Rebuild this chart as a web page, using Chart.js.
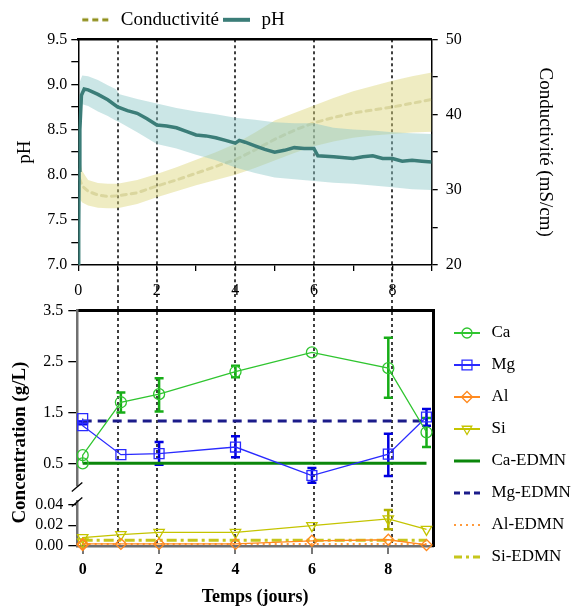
<!DOCTYPE html>
<html><head><meta charset="utf-8">
<script src="https://cdn.jsdelivr.net/npm/chart.js@4.4.0/dist/chart.umd.min.js"></script>
<style>
html,body{margin:0;padding:0;background:#fff;overflow:hidden;}
#wrap{position:relative;width:573px;height:606px;background:#fff;}
#c1{position:absolute;left:0;top:0;}
#c2{position:absolute;left:0;top:275px;}
</style></head><body>
<div id="wrap">
<canvas id="c1" width="573" height="300"></canvas>
<canvas id="c2" width="573" height="331"></canvas>
</div>
<script>
// ---------- TOP CHART DATA ----------
const phT = [0, 0.01, 0.02, 0.04, 0.08, 0.15, 0.25, 0.5, 0.75, 1.0, 1.25, 1.5, 1.75, 2.0, 2.25, 2.5, 2.75, 3.0, 3.25, 3.5, 3.75, 4.0, 4.1, 4.25, 4.5, 4.75, 5.0, 5.25, 5.5, 5.75, 6.0, 6.1, 6.5, 7.0, 7.25, 7.5, 7.75, 8.0, 8.25, 8.5, 8.75, 9.0];
const phMean = [7.0, 7.37, 8.05, 8.5, 8.88, 8.95, 8.94, 8.89, 8.83, 8.75, 8.71, 8.68, 8.62, 8.55, 8.54, 8.52, 8.48, 8.44, 8.43, 8.41, 8.38, 8.35, 8.38, 8.36, 8.32, 8.28, 8.25, 8.27, 8.30, 8.29, 8.29, 8.21, 8.20, 8.18, 8.20, 8.21, 8.18, 8.18, 8.15, 8.16, 8.15, 8.14];
const bandT = [0.03, 0.1, 0.25, 0.5, 0.75, 0.95, 1.05, 1.5, 2.0, 2.5, 3.0, 3.5, 4.0, 4.5, 5.0, 5.5, 6.0, 6.5, 7.0, 7.5, 8.0, 8.5, 9.0];
const phUpper = [9.02, 9.10, 9.09, 9.05, 8.99, 8.95, 8.89, 8.84, 8.79, 8.74, 8.70, 8.67, 8.63, 8.61, 8.58, 8.57, 8.57, 8.52, 8.50, 8.49, 8.47, 8.46, 8.45];
const phLower = [8.50, 8.78, 8.76, 8.70, 8.65, 8.60, 8.58, 8.47, 8.34, 8.29, 8.22, 8.16, 8.08, 8.02, 7.97, 7.95, 7.93, 7.91, 7.90, 7.88, 7.86, 7.84, 7.83];
const condT = [0.03, 0.1, 0.25, 0.5, 0.75, 1.0, 1.5, 2.0, 2.5, 3.0, 3.5, 4.0, 4.5, 5.0, 5.5, 6.0, 6.5, 7.0, 7.5, 8.0, 8.5, 9.0];
const condMean = [31.5, 30.5, 29.8, 29.3, 29.1, 29.2, 29.6, 30.5, 31.3, 32.2, 33.1, 34.0, 35.3, 36.7, 37.9, 38.9, 39.6, 40.2, 40.6, 41.0, 41.5, 42.0];
const condUpper = [34.5, 32.5, 31.3, 30.9, 30.8, 30.8, 31.3, 32.1, 33.0, 34.0, 35.0, 36.1, 37.6, 39.2, 40.2, 41.2, 42.2, 43.1, 43.8, 44.5, 45.1, 45.6];
const condLower = [28.8, 28.3, 27.9, 27.6, 27.55, 27.55, 28.1, 29.0, 29.8, 30.6, 31.3, 32.0, 32.9, 33.9, 34.9, 35.8, 36.4, 36.9, 37.2, 37.4, 37.6, 37.7];
const xTicksTop = [0, 1, 2, 3, 4, 5, 6, 7, 8, 9];
const xLabelsTop = [0, 2, 4, 6, 8];
const phTicks = [7.0, 7.25, 7.5, 7.75, 8.0, 8.25, 8.5, 8.75, 9.0, 9.25, 9.5];
const phMajor = [7.0, 7.5, 8.0, 8.5, 9.0, 9.5];
const phMajorLabels = ['7.0', '7.5', '8.0', '8.5', '9.0', '9.5'];
const condTicks = [20, 25, 30, 35, 40, 45, 50];
const condMajor = [20, 30, 40, 50];
const samplingDays = [1, 2, 4, 6, 8];

// ---------- BOTTOM CHART DATA ----------
const sampleDays = [0, 0, 1, 2, 4, 6, 8, 9];
const caVals = [0.50, 0.66, 1.70, 1.86, 2.30, 2.68, 2.37, 1.11];
const caErrLow = [null, null, 1.50, 1.52, 2.19, null, 1.79, 0.82];
const caErrHigh = [null, null, 1.89, 2.17, 2.42, null, 2.97, 1.39];
const mgVals = [1.38, 1.24, 0.67, 0.69, 0.82, 0.26, 0.68, 1.41];
const mgErrLow = [null, 1.27, null, 0.47, 0.62, 0.12, 0.25, 1.24];
const mgErrHigh = [null, 1.32, null, 0.92, 1.03, 0.41, 1.08, 1.57];
const alVals = [0.001, 0.002, 0.002, 0.002, 0.002, 0.005, 0.006, 0.001];
const siVals = [0.004, 0.008, 0.011, 0.013, 0.013, 0.0195, 0.026, 0.016];
const siErrLow = [null, null, null, null, null, null, 0.016, null];
const siErrHigh = [null, null, null, null, null, null, 0.0345, null];
const edmnDays = [0, 9];
const caEDMN = [0.5, 0.5];
const mgEDMN = [1.33, 1.33];
const alEDMN = [0.002, 0.002];
const siEDMN = [0.0055, 0.0055];
const xTicksBottom = [0, 2, 4, 6, 8];
const upTicks = [0.5, 1.5, 2.5, 3.5];
const upLabels = ['0.5', '1.5', '2.5', '3.5'];
const lowTicks = [0, 0.02, 0.04];
const lowLabels = ['0.00', '0.02', '0.04'];

// ---------- helpers ----------
const SERIF = "'Liberation Serif','Times New Roman',serif";
Chart.defaults.font.family = SERIF;
Chart.defaults.color = '#000';
Chart.defaults.animation = false;
const JOIN_Y = 288; // page y where the sampling-day guides pass from top canvas to bottom canvas
const C2_TOP = 275;

function pts(xs, ys) { return xs.map((x, i) => ({x: x, y: ys[i]})); }
function img(w, h, draw) { const c = document.createElement('canvas'); c.width = w; c.height = h; const g = c.getContext('2d'); draw(g, w, h); return c; }
function hline(g, x0, x1, y, color, width, dash) { g.save(); g.strokeStyle = color; g.lineWidth = width; g.setLineDash(dash || []); g.beginPath(); g.moveTo(x0, y); g.lineTo(x1, y); g.stroke(); g.restore(); }
function marker(g, type, cx, cy, r, color) {
  g.save(); g.strokeStyle = color; g.lineWidth = 1.3; g.beginPath();
  if (type === 'circle') g.arc(cx, cy, r, 0, Math.PI * 2);
  else if (type === 'rect') { const s = r * Math.SQRT1_2; g.rect(cx - s, cy - s, 2 * s, 2 * s); }
  else if (type === 'rectRot') { g.moveTo(cx - r, cy); g.lineTo(cx, cy - r); g.lineTo(cx + r, cy); g.lineTo(cx, cy + r); g.closePath(); }
  else if (type === 'triDown') { g.moveTo(cx, cy + r); g.lineTo(cx - r * 0.866, cy - r / 2); g.lineTo(cx + r * 0.866, cy - r / 2); g.closePath(); }
  g.stroke(); g.restore();
}

// ---------- colours ----------
const COL = {
  ph: '#3b7d78', phBand: 'rgba(140,200,200,0.45)',
  cond: 'rgba(185,180,100,0.38)', condLegend: '#8f8f1c', condBand: 'rgba(220,212,120,0.45)',
  ca: '#2fc52f', caErr: '#17ad17', mg: '#2a2aff', mgErr: '#0000e0', al: '#ff8a1f', si: '#c4c400', siErr: '#b3b300',
  caE: '#0b870b', mgE: '#1b1b8a', alE: '#ff9a3c', siE: '#c6c61c'
};

// ---------- TOP CHART ----------
const guidesTop = {
  id: 'guidesTop',
  beforeDatasetsDraw(chart) {
    const {ctx, chartArea, scales} = chart;
    ctx.save(); ctx.strokeStyle = '#000'; ctx.lineWidth = 1.5; ctx.setLineDash([3, 3]);
    samplingDays.forEach(d => {
      const px = Math.round(scales.x.getPixelForValue(d));
      ctx.beginPath(); ctx.moveTo(px, chartArea.top); ctx.lineTo(px, JOIN_Y); ctx.stroke();
    });
    ctx.restore();
  }
};

const legCond = img(30, 14, g => hline(g, 1, 28, 7, COL.condLegend, 3, [6, 4]));
const legPh = img(30, 14, g => hline(g, 1, 28, 7, COL.ph, 4));
const TOP_PAD = 7.3;

const topChart = new Chart(document.getElementById('c1'), {
  type: 'line',
  data: { datasets: [
    {label: 'pH', data: pts(phT, phMean), yAxisID: 'y', borderColor: COL.ph, borderWidth: 3.5, pointRadius: 0, fill: false, tension: 0},
    {label: 'pH max', data: pts(bandT, phUpper), yAxisID: 'y', borderColor: 'transparent', borderWidth: 0, pointRadius: 0, backgroundColor: COL.phBand, fill: '+1'},
    {label: 'pH min', data: pts(bandT, phLower), yAxisID: 'y', borderColor: 'transparent', borderWidth: 0, pointRadius: 0, fill: false},
    {label: 'Conductivité', data: pts(condT, condMean), yAxisID: 'y2', borderColor: COL.cond, borderWidth: 3, borderDash: [5, 5], borderCapStyle: 'round', pointRadius: 0, fill: false},
    {label: 'Cond max', data: pts(condT, condUpper), yAxisID: 'y2', borderColor: 'transparent', borderWidth: 0, pointRadius: 0, backgroundColor: COL.condBand, fill: '+1'},
    {label: 'Cond min', data: pts(condT, condLower), yAxisID: 'y2', borderColor: 'transparent', borderWidth: 0, pointRadius: 0, fill: false}
  ]},
  options: {
    responsive: false, animation: false, events: [],
    layout: {padding: {top: TOP_PAD, left: 0, right: 0, bottom: 0}},
    plugins: {
      tooltip: {enabled: false},
      legend: {
        display: true, position: 'top', align: 'start', fullSize: false,
        labels: {
          usePointStyle: true, pointStyleWidth: 30, padding: 3, font: {size: 19}, color: '#000',
          generateLabels: () => [
            {text: 'Conductivité', pointStyle: legCond, fillStyle: 'transparent', strokeStyle: 'transparent', lineWidth: 0, hidden: false, datasetIndex: 3, fontColor: '#000'},
            {text: 'pH', pointStyle: legPh, fillStyle: 'transparent', strokeStyle: 'transparent', lineWidth: 0, hidden: false, datasetIndex: 0, fontColor: '#000'}
          ]
        }
      }
    },
    scales: {
      x: {
        type: 'linear', position: 'bottom', min: 0, max: 9,
        afterBuildTicks: s => { s.ticks = xTicksTop.map(v => ({value: v})); },
        ticks: {autoSkip: false, maxRotation: 0, padding: 10, font: {size: 16}, callback: v => (xLabelsTop.includes(v) ? String(v) : '')},
        grid: {display: true, drawOnChartArea: false, drawTicks: true, tickLength: 6, color: '#000', tickColor: '#000', lineWidth: 1.3},
        border: {display: true, color: '#000', width: 1.5},
        afterFit: s => { s.height = 35; }
      },
      xTop: {
        type: 'linear', position: 'top', min: 0, max: 9,
        ticks: {display: false}, grid: {display: false, drawTicks: false},
        border: {display: true, color: '#000', width: 2.5},
        afterFit: s => { const lg = s.chart.legend; s.height = Math.max(0, 32.3 - TOP_PAD - (lg ? lg.height : 0)); }
      },
      y: {
        type: 'linear', position: 'left', min: 7, max: 9.5,
        afterBuildTicks: s => { s.ticks = phTicks.map(v => ({value: v})); },
        ticks: {autoSkip: false, padding: 4, font: {size: 16}, callback: v => { const i = phMajor.indexOf(v); return i >= 0 ? phMajorLabels[i] : ''; }},
        grid: {display: true, drawOnChartArea: false, drawTicks: true, tickLength: 7, color: '#000', lineWidth: 1.3},
        border: {display: true, color: '#000', width: 1.5},
        title: {display: true, text: 'pH', font: {size: 19}, padding: {top: 13.6, bottom: 0}},
        afterFit: s => { s.width = 78.3; }
      },
      y2: {
        type: 'linear', position: 'right', min: 20, max: 50,
        afterBuildTicks: s => { s.ticks = condTicks.map(v => ({value: v})); },
        ticks: {autoSkip: false, padding: 8, font: {size: 16}, callback: v => (condMajor.includes(v) ? String(v) : '')},
        grid: {display: true, drawOnChartArea: false, drawTicks: true, tickLength: 6, color: '#000', lineWidth: 1.3},
        border: {display: true, color: '#000', width: 1.5},
        title: {display: true, text: 'Conductivité (mS/cm)', font: {size: 19}, padding: {top: 16.6, bottom: 0}},
        afterFit: s => { s.width = 141.3; }
      }
    }
  },
  plugins: [guidesTop]
});

// ---------- BOTTOM CHART ----------
const errorSets = [
  {low: caErrLow, high: caErrHigh, axis: 'yUp', color: COL.caErr},
  {low: mgErrLow, high: mgErrHigh, axis: 'yUp', color: COL.mgErr},
  {low: siErrLow, high: siErrHigh, axis: 'yLow', color: COL.siErr}
];
const guidesBottom = {
  id: 'guidesBottom',
  beforeDatasetsDraw(chart) {
    const {ctx, chartArea} = chart;
    ctx.save(); ctx.strokeStyle = '#000'; ctx.lineWidth = 1.5; ctx.setLineDash([3, 3]);
    samplingDays.forEach(d => {
      const px = Math.round(topChart.scales.x.getPixelForValue(d));
      ctx.beginPath(); ctx.moveTo(px, JOIN_Y - C2_TOP); ctx.lineTo(px, chartArea.bottom); ctx.stroke();
    });
    ctx.restore();
  }
};
const errorBars = {
  id: 'errorBars',
  beforeDatasetsDraw(chart) {
    const ctx = chart.ctx, xs = chart.scales.x;
    errorSets.forEach(set => {
      const ys = chart.scales[set.axis];
      ctx.save(); ctx.strokeStyle = set.color; ctx.lineWidth = 2.5; ctx.setLineDash([]);
      set.low.forEach((lo, i) => {
        const hi = set.high[i];
        if (lo == null || hi == null) return;
        const px = xs.getPixelForValue(sampleDays[i]);
        const y1 = ys.getPixelForValue(lo), y2 = ys.getPixelForValue(hi);
        ctx.beginPath();
        ctx.moveTo(px, y1); ctx.lineTo(px, y2);
        ctx.moveTo(px - 4.5, y1); ctx.lineTo(px + 4.5, y1);
        ctx.moveTo(px - 4.5, y2); ctx.lineTo(px + 4.5, y2);
        ctx.stroke();
      });
      ctx.restore();
    });
  }
};
const axisBreak = {
  id: 'axisBreak',
  afterDraw(chart) {
    const ctx = chart.ctx, g = chart.scales.yGap, x = chart.chartArea.left;
    ctx.save(); ctx.strokeStyle = '#000'; ctx.lineWidth = 1.3;
    [g.top + 1, g.bottom + 1].forEach(y => { ctx.beginPath(); ctx.moveTo(x - 5.5, y + 4.5); ctx.lineTo(x + 5, y - 4.5); ctx.stroke(); });
    ctx.restore();
  }
};

const LW = 32, LH = 16;
const legItems = [
  ['Ca', img(LW, LH, g => { hline(g, 3, 29, 8, COL.ca, 2); marker(g, 'circle', 16, 8, 5, COL.ca); })],
  ['Mg', img(LW, LH, g => { hline(g, 3, 29, 8, COL.mg, 2); marker(g, 'rect', 16, 8, 7, COL.mg); })],
  ['Al', img(LW, LH, g => { hline(g, 3, 29, 8, COL.al, 2); marker(g, 'rectRot', 16, 8, 5.5, COL.al); })],
  ['Si', img(LW, LH, g => { hline(g, 3, 29, 8, COL.si, 2); marker(g, 'triDown', 16, 8, 5.5, COL.si); })],
  ['Ca-EDMN', img(LW, LH, g => hline(g, 3, 29, 8, COL.caE, 3))],
  ['Mg-EDMN', img(LW, LH, g => hline(g, 3, 29, 8, COL.mgE, 3, [6, 4]))],
  ['Al-EDMN', img(LW, LH, g => hline(g, 3, 29, 8, COL.alE, 2, [2, 4]))],
  ['Si-EDMN', img(LW, LH, g => hline(g, 3, 29, 8, COL.siE, 3, [8, 4, 3, 4]))]
];
const TITLE_W = 28, STACK_W = 77.3 - 28;

const bottomChart = new Chart(document.getElementById('c2'), {
  type: 'line',
  data: { datasets: [
    {label: 'Ca', data: pts(sampleDays, caVals), yAxisID: 'yUp', borderColor: COL.ca, borderWidth: 1.3, pointStyle: 'circle', pointRadius: 5.5, pointBorderWidth: 1.3, pointBorderColor: COL.ca, pointBackgroundColor: 'transparent', clip: false, tension: 0},
    {label: 'Mg', data: pts(sampleDays, mgVals), yAxisID: 'yUp', borderColor: COL.mg, borderWidth: 1.3, pointStyle: 'rect', pointRadius: 7, pointBorderWidth: 1.3, pointBorderColor: COL.mg, pointBackgroundColor: 'transparent', clip: false, tension: 0},
    {label: 'Al', data: pts(sampleDays, alVals), yAxisID: 'yLow', borderColor: COL.al, borderWidth: 1.3, pointStyle: 'rectRot', pointRadius: 5.5, pointBorderWidth: 1.3, pointBorderColor: COL.al, pointBackgroundColor: 'transparent', clip: false, tension: 0},
    {label: 'Si', data: pts(sampleDays, siVals), yAxisID: 'yLow', borderColor: COL.si, borderWidth: 1.3, pointStyle: 'triangle', pointRotation: 180, pointRadius: 6, pointBorderWidth: 1.3, pointBorderColor: COL.si, pointBackgroundColor: 'transparent', clip: false, tension: 0},
    {label: 'Ca-EDMN', data: pts(edmnDays, caEDMN), yAxisID: 'yUp', borderColor: COL.caE, borderWidth: 3, pointRadius: 0, clip: false},
    {label: 'Mg-EDMN', data: pts(edmnDays, mgEDMN), yAxisID: 'yUp', borderColor: COL.mgE, borderWidth: 3, borderDash: [9, 6], pointRadius: 0, clip: false},
    {label: 'Al-EDMN', data: pts(edmnDays, alEDMN), yAxisID: 'yLow', borderColor: COL.alE, borderWidth: 2, borderDash: [2, 4], pointRadius: 0, clip: false},
    {label: 'Si-EDMN', data: pts(edmnDays, siEDMN), yAxisID: 'yLow', borderColor: COL.siE, borderWidth: 3, borderDash: [10, 4, 3, 4], pointRadius: 0, clip: false}
  ]},
  options: {
    responsive: false, animation: false, events: [],
    layout: {padding: {top: 34.5, left: 0, right: 0, bottom: 0}},
    plugins: {
      tooltip: {enabled: false},
      legend: {
        display: true, position: 'right', align: 'start', maxWidth: 137,
        labels: {
          usePointStyle: true, pointStyleWidth: 32, padding: 15, font: {size: 17}, color: '#000',
          generateLabels: () => legItems.map((it, i) => ({text: it[0], pointStyle: it[1], fillStyle: 'transparent', strokeStyle: 'transparent', lineWidth: 0, hidden: false, datasetIndex: i, fontColor: '#000'}))
        }
      }
    },
    scales: {
      x: {
        type: 'linear', position: 'bottom', min: -0.141, max: 9.17,
        afterBuildTicks: s => { s.ticks = xTicksBottom.map(v => ({value: v})); },
        ticks: {autoSkip: false, maxRotation: 0, padding: 6, font: {size: 16, weight: 'bold'}, callback: v => String(v)},
        grid: {display: true, drawOnChartArea: false, drawTicks: true, tickLength: 8, color: '#777', tickColor: '#777', lineWidth: 2},
        border: {display: true, color: '#707070', width: 2.5},
        title: {display: true, text: 'Temps (jours)', font: {size: 18, weight: 'bold', lineHeight: 1}, padding: {top: 0, bottom: 0}},
        afterFit: s => { s.height = 60; }
      },
      xTop: {
        type: 'linear', position: 'top', min: -0.141, max: 9.17,
        ticks: {display: false}, grid: {display: false, drawTicks: false},
        border: {display: true, color: '#000', width: 3},
        afterFit: s => { s.height = 1.2; }
      },
      yRight: {
        type: 'linear', position: 'right', min: 0, max: 1,
        ticks: {display: false}, grid: {display: false, drawTicks: false},
        border: {display: true, color: '#000', width: 3},
        afterFit: s => { const lg = s.chart.legend; s.width = Math.max(0, 573 - (lg ? lg.width : 0) - 433); }
      },
      yTitle: {
        type: 'linear', position: 'left', weight: 10, min: 0, max: 1,
        ticks: {display: false}, grid: {display: false, drawTicks: false}, border: {display: false},
        title: {display: true, text: 'Concentration (g/L)      ', font: {size: 19, weight: 'bold'}, padding: {top: 8.6, bottom: 0}},
        afterFit: s => { s.width = TITLE_W; }
      },
      yUp: {
        type: 'linear', position: 'left', stack: 'conc', stackWeight: 175.3, weight: 3, min: 0.054, max: 3.5,
        afterBuildTicks: s => { s.ticks = upTicks.map(v => ({value: v})); },
        ticks: {autoSkip: false, padding: 5, font: {size: 16}, callback: v => { const i = upTicks.indexOf(v); return i >= 0 ? upLabels[i] : ''; }},
        grid: {display: true, drawOnChartArea: false, drawTicks: true, tickLength: 9, color: '#000', lineWidth: 1.3},
        border: {display: true, color: '#707070', width: 2.5},
        afterFit: s => { s.width = STACK_W; }
      },
      yGap: {
        type: 'linear', position: 'left', stack: 'conc', stackWeight: 15, weight: 2, min: 0, max: 1,
        ticks: {display: false}, grid: {display: false, drawTicks: false}, border: {display: false},
        afterFit: s => { s.width = STACK_W; }
      },
      yLow: {
        type: 'linear', position: 'left', stack: 'conc', stackWeight: 45, weight: 1, min: 0, max: 0.0432,
        afterBuildTicks: s => { s.ticks = lowTicks.map(v => ({value: v})); },
        ticks: {autoSkip: false, padding: 5, font: {size: 16}, callback: v => { const i = lowTicks.indexOf(v); return i >= 0 ? lowLabels[i] : ''; }},
        grid: {display: true, drawOnChartArea: false, drawTicks: true, tickLength: 9, color: '#000', lineWidth: 1.3},
        border: {display: true, color: '#707070', width: 2.5},
        afterFit: s => { s.width = STACK_W; }
      }
    }
  },
  plugins: [guidesBottom, errorBars, axisBreak]
});
</script>
</body></html>
